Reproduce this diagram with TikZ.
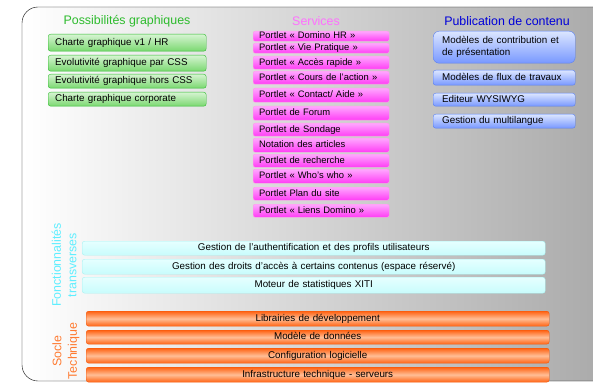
\documentclass[tikz,border=0pt]{standalone}
\usepackage{fontspec}
\setmainfont{Liberation Sans}

\definecolor{vertbord}{HTML}{2DBB2D}
\definecolor{vertclair}{HTML}{D6F4D2}
\definecolor{vertfonce}{HTML}{7AD870}
\definecolor{roseclair}{HTML}{FFA8FF}
\definecolor{rosefonce}{HTML}{FF3CF5}
\definecolor{rosebord}{HTML}{FF9AE8}
\definecolor{rosetitre}{HTML}{FF70FF}
\definecolor{bleuclair}{HTML}{DCE6FF}
\definecolor{bleufonce}{HTML}{7898FF}
\definecolor{bleubord}{HTML}{5A80F0}
\definecolor{cyanclair}{HTML}{E6FFFF}
\definecolor{cyanfonce}{HTML}{C8FCFC}
\definecolor{cyanbord}{HTML}{A8F2F2}
\definecolor{cyantitre}{HTML}{5EEEFF}
\definecolor{orangefonce}{HTML}{FF6212}
\definecolor{orangeclair}{HTML}{FFBE96}
\definecolor{orangebord}{HTML}{F25A10}
\definecolor{orangetitre}{HTML}{FF7A30}

\tikzset{
  boite/.style={anchor=north west, rounded corners=2.5, inner ysep=0,
    text height=6.9, text depth=1.8, font=\fontsize{9.8}{11.5}\selectfont},
  boitevert/.style={boite, draw=vertbord, top color=vertclair, bottom color=vertfonce,
    inner xsep=7, text width=144, align=left},
  boiterose/.style={boite, draw=rosebord, top color=roseclair, bottom color=rosefonce,
    rounded corners=2, inner xsep=6, text width=124, align=left,
    font=\fontsize{9.4}{11}\selectfont},
  boitebleu/.style={boite, draw=bleubord, top color=bleuclair, bottom color=bleufonce,
    inner xsep=9, text width=124, align=left},
  boitecyan/.style={boite, draw=cyanbord, top color=cyanclair, bottom color=cyanfonce,
    inner xsep=6, text width=451, align=center},
  boiteorange/.style={boite, draw=orangebord, top color=orangefonce, bottom color=orangefonce,
    middle color=orangeclair, inner xsep=6, text width=451, align=center},
  titre/.style={font=\fontsize{12.4}{14}\selectfont, inner sep=0},
  cote/.style={rotate=90, align=center, inner sep=0, font=\fontsize{12.4}{15.5}\selectfont}
}

\begin{document}
\begin{tikzpicture}[x=1pt,y=-1pt]
\useasboundingbox (0,0) rectangle (593,382);
\clip (0,0) rectangle (593,382);
\draw[rounded corners=16, left color=white, right color=black!36] (22,7) rectangle (650,381);

% titres
\node[titre, text=vertbord] (tgraph) at (127,21) {Possibilités graphiques};
\node[titre, text=rosetitre] (tserv) at (316,21) {Services};
\node[titre, text=blue!85!black] (tpub) at (507,21) {Publication de contenu};

% possibilites graphiques
\node[boitevert, minimum height=17] (g1) at (48,34) {Charte graphique v1 / HR};
\node[boitevert, minimum height=16] (g2) at (48,55) {Evolutivité graphique par CSS};
\node[boitevert, minimum height=14] (g3) at (48,74) {Evolutivité graphique hors CSS};
\node[boitevert, minimum height=14] (g4) at (48,92) {Charte graphique corporate};

% services
\node[boiterose, minimum height=10] (s1) at (253,31) {Portlet « Domino HR »};
\node[boiterose, minimum height=10] (s2) at (253,43) {Portlet « Vie Pratique »};
\node[boiterose, minimum height=13] (s3) at (253,56) {Portlet « Accès rapide »};
\node[boiterose, minimum height=13] (s4) at (253,71) {Portlet « Cours de l'action »};
\node[boiterose, minimum height=14] (s5) at (253,88) {Portlet « Contact/ Aide »};
\node[boiterose, minimum height=14] (s6) at (253,106) {Portlet de Forum};
\node[boiterose, minimum height=13] (s7) at (253,123) {Portlet de Sondage};
\node[boiterose, minimum height=14] (s8) at (253,138) {Notation des articles};
\node[boiterose, minimum height=13] (s9) at (253,154) {Portlet de recherche};
\node[boiterose, minimum height=14] (s10) at (253,169) {Portlet « Who's who »};
\node[boiterose, minimum height=13] (s11) at (253,187) {Portlet Plan du site};
\node[boiterose, minimum height=13] (s12) at (253,204) {Portlet « Liens Domino »};

% publication
\node[boitebleu, rounded corners=6, minimum height=32, text depth=13.3] (p1) at (433,31)
  {Modèles de contribution et\\de présentation};
\node[boitebleu, minimum height=15] (p2) at (433,70) {Modèles de flux de travaux};
\node[boitebleu, minimum height=13] (p3) at (433,93) {Editeur WYSIWYG};
\node[boitebleu, minimum height=14] (p4) at (433,114) {Gestion du multilangue};

% fonctionnalites transverses
\node[cote, text=cyantitre] (lfonc) at (64,265) {Fonctionnalités\\transverses};
\node[boitecyan, minimum height=14] (f1) at (82,241) {Gestion de l'authentification et des profils utilisateurs};
\node[boitecyan, minimum height=15] (f2) at (82,259) {Gestion des droits d'accès à certains contenus (espace réservé)};
\node[boitecyan, minimum height=16] (f3) at (82,277) {Moteur de statistiques XITI};

% socle technique
\node[cote, text=orangetitre] (lsocle) at (66,351) {Socle\\Technique};
\node[boiteorange, minimum height=15] (t1) at (86,311) {Librairies de développement};
\node[boiteorange, minimum height=14] (t2) at (86,330) {Modèle de données};
\node[boiteorange, minimum height=15] (t3) at (86,348) {Configuration logicielle};
\node[boiteorange, minimum height=15] (t4) at (86,367) {Infrastructure technique - serveurs};
\end{tikzpicture}
\end{document}
